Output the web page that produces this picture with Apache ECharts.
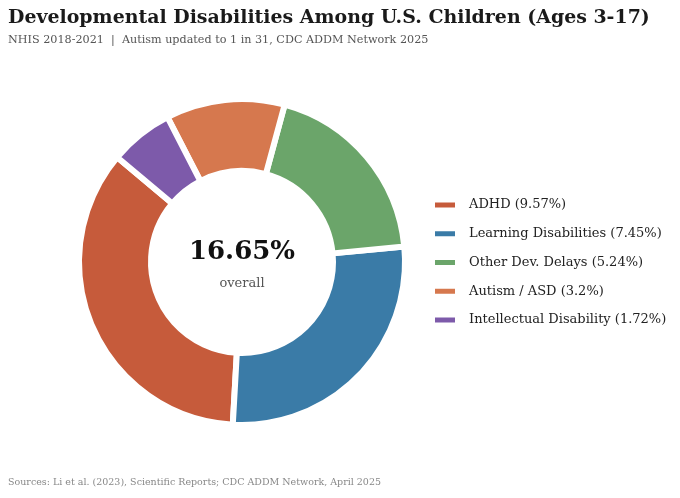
<!DOCTYPE html>
<html>
<head>
<meta charset="utf-8">
<script src="https://cdn.jsdelivr.net/npm/echarts@6/dist/echarts.min.js"></script>
<style>
  html, body { margin: 0; padding: 0; background: #fff; }
  #main { width: 680px; height: 498px; }
</style>
</head>
<body>
<div id="main"></div>
<script>
// categories and prevalence (% of children)
var categories = ['ADHD', 'Learning Disabilities', 'Other Dev. Delays', 'Autism / ASD', 'Intellectual Disability'];
var prevalence = [9.57, 7.45, 5.24, 3.2, 1.72];
var sliceColors = ['#C65B3B', '#3A7BA7', '#6BA56A', '#D6784E', '#7D5AAA'];
var overallRate = '16.65%';

var FONT = '"DejaVu Serif", serif';

var chart = echarts.init(document.getElementById('main'));

var pieData = [];
for (var i = 0; i < categories.length; i++) {
	pieData.push({
		name : categories[i],
		value : prevalence[i],
		itemStyle : { color : sliceColors[i] }
	});
}

var option = {
	backgroundColor : '#fff',
	animation : false,
	title : [ {
		text : 'Developmental Disabilities Among U.S. Children (Ages 3-17)',
		left : 3,
		top : 4,
		textStyle : { fontFamily : FONT, fontSize : 18.95, fontWeight : 'bold', color : '#1a1a1a' }
	}, {
		text : 'NHIS 2018-2021  |  Autism updated to 1 in 31, CDC ADDM Network 2025',
		left : 3,
		top : 30,
		textStyle : { fontFamily : FONT, fontSize : 11.2, fontWeight : 'normal', color : '#555' }
	}, {
		text : 'Sources: Li et al. (2023), Scientific Reports; CDC ADDM Network, April 2025',
		left : 3,
		top : 473,
		textStyle : { fontFamily : FONT, fontSize : 9.5, fontWeight : 'normal', color : '#888' }
	} ],
	legend : {
		orient : 'vertical',
		left : 428,
		top : 192,
		icon : 'rect',
		itemWidth : 22,
		itemHeight : 7,
		itemGap : 12.75,
		selectedMode : false,
		data : categories,
		formatter : function(name) {
			var idx = categories.indexOf(name);
			return name + ' (' + prevalence[idx] + '%)';
		},
		textStyle : {
			fontFamily : FONT,
			fontSize : 13,
			lineHeight : 16,
			color : '#222',
			padding : [0, 0, 0, 8]
		}
	},
	graphic : [ {
		type : 'text',
		style : {
			x : 242, y : 252,
			text : overallRate,
			fontFamily : FONT, fontSize : 26, fontWeight : 'bold',
			fill : '#111', align : 'center', verticalAlign : 'middle'
		}
	}, {
		type : 'text',
		style : {
			x : 242, y : 284,
			text : 'overall',
			fontFamily : FONT, fontSize : 13,
			fill : '#555', align : 'center', verticalAlign : 'middle'
		}
	} ],
	series : [ {
		type : 'pie',
		center : [242, 262],
		radius : [91, 163],
		startAngle : 140,
		clockwise : false,
		label : { show : false },
		labelLine : { show : false },
		emphasis : { disabled : true },
		itemStyle : { borderColor : '#fff', borderWidth : 6 },
		data : pieData
	} ]
};
chart.setOption(option);
</script>
</body>
</html>
